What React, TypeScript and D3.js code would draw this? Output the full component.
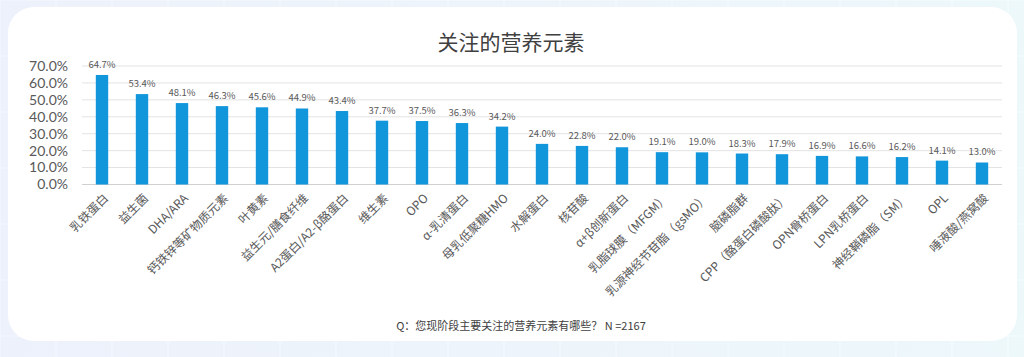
import React from "react";
import * as d3 from "d3";

const categories = [
  "乳铁蛋白", "益生菌", "DHA/ARA", "钙铁锌等矿物质元素", "叶黄素", "益生元/膳食纤维",
  "A2蛋白/A2-β酪蛋白", "维生素", "OPO", "α-乳清蛋白", "母乳低聚糖HMO", "水解蛋白",
  "核苷酸", "α+β创新蛋白", "乳脂球膜（MFGM）", "乳源神经节苷脂（gsMO）", "脑磷脂群",
  "CPP（酪蛋白磷酸肽）", "OPN骨桥蛋白", "LPN乳桥蛋白", "神经鞘磷脂（SM）", "OPL", "唾液酸/燕窝酸",
];
const values = [
  64.7, 53.4, 48.1, 46.3, 45.6, 44.9, 43.4, 37.7, 37.5, 36.3, 34.2, 24.0,
  22.8, 22.0, 19.1, 19.0, 18.3, 17.9, 16.9, 16.6, 16.2, 14.1, 13.0,
];
const yTicks = [0, 10, 20, 30, 40, 50, 60, 70];
const title = "关注的营养元素";
const footnote = "Q：您现阶段主要关注的营养元素有哪些？ N =2167";

const W = 1024;
const H = 357;
const font = "'Noto Sans CJK SC', 'Noto Sans', sans-serif";

export default function App() {
  const x = d3.scaleBand<string>().domain(categories).range([82, 1002]).paddingInner(0.69).paddingOuter(0.345);
  const y = d3.scaleLinear().domain([0, 70]).range([184.5, 66]);
  const bw = x.bandwidth();

  const bgLinesX = d3.range(0, W, 56);
  const bgLinesY = d3.range(0, H, 56);

  return (
    <svg width={W} height={H} style={{ position: "absolute", left: 0, top: 0, fontFamily: font }}>
      <defs>
        <linearGradient id="bg" x1="0" y1="0" x2="1" y2="0">
          <stop offset="0" stopColor="#edf1fb" />
          <stop offset="1" stopColor="#edf8fb" />
        </linearGradient>
      </defs>
      <rect x={0} y={0} width={W} height={H} fill="url(#bg)" />
      {bgLinesX.map((v) => (
        <line key={"bx" + v} x1={v} x2={v} y1={0} y2={H} stroke="#ffffff" strokeOpacity={0.5} />
      ))}
      {bgLinesY.map((v) => (
        <line key={"by" + v} x1={0} x2={W} y1={v} y2={v} stroke="#ffffff" strokeOpacity={0.5} />
      ))}
      <rect x={8} y={7} width={1009} height={334} rx={26} ry={26} fill="#ffffff" />
      <text x={511} y={50} textAnchor="middle" fontSize={21} fill="#404040">
        {title}
      </text>
      {yTicks.map((t) => (
        <g key={t}>
          <line x1={82} x2={1002} y1={y(t)} y2={y(t)} stroke={t === 0 ? "#d0d0d0" : "#e3e3e3"} strokeWidth={1} />
          <text x={68} y={y(t)} dy="0.35em" textAnchor="end" fontSize={14} fontFamily="Lato, 'Noto Sans', sans-serif" fill="#595959">
            {t.toFixed(1) + "%"}
          </text>
        </g>
      ))}
      {categories.map((c, i) => {
        const cx = (x(c) as number) + bw / 2;
        return (
          <g key={c}>
            <rect x={x(c)} y={y(values[i])} width={bw} height={y(0) - y(values[i])} fill="#1296db" />
            <text x={cx} y={y(values[i]) - 7} textAnchor="middle" fontSize={9.5} fill="#595959">
              {values[i].toFixed(1) + "%"}
            </text>
            <text
              transform={`translate(${cx + 4},${196}) rotate(-45)`}
              textAnchor="end"
              dy="0.35em"
              fontSize={12}
              fill="#595959"
            >
              {c}
            </text>
          </g>
        );
      })}
      <text x={521} y={330} textAnchor="middle" fontSize={11} fill="#404040">
        {footnote}
      </text>
    </svg>
  );
}
